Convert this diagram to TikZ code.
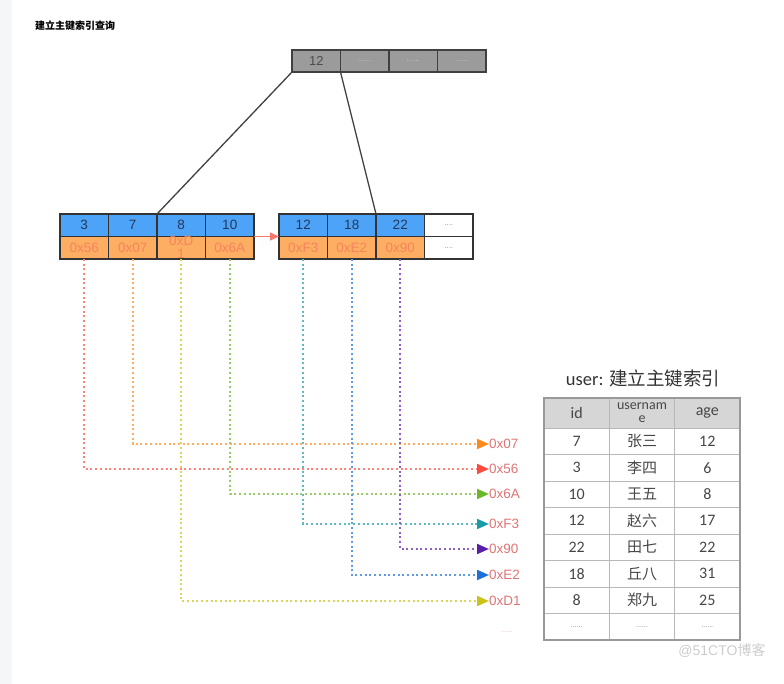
\documentclass[tikz,border=0pt]{standalone}
\usepackage{fontspec}
\setmainfont{Liberation Sans}
\newfontfamily\cjk{Noto Sans CJK SC}
\newfontfamily\tabfont{Carlito}
\usetikzlibrary{arrows.meta,positioning}

\definecolor{rootgray}{HTML}{9B9B9B}
\definecolor{keyblue}{HTML}{4DA3F7}
\definecolor{ptrorange}{HTML}{FDAE62}
\definecolor{ptrtext}{HTML}{F5845F}
\definecolor{keytext}{HTML}{25385A}
\definecolor{addrtext}{HTML}{E07474}
\definecolor{linkred}{HTML}{F47A6E}
\definecolor{c07}{HTML}{FF8A1C}
\definecolor{c56}{HTML}{FF4B3E}
\definecolor{c6A}{HTML}{6DB52A}
\definecolor{cF3}{HTML}{1A9BA6}
\definecolor{c90}{HTML}{5B1FA6}
\definecolor{cE2}{HTML}{1E6FD9}
\definecolor{cD1}{HTML}{C9C31A}

\begin{document}
\begin{tikzpicture}[x=1pt, y=-1pt, node distance=0pt,
  every node/.style={inner sep=0pt, outer sep=0pt},
  rootcell/.style={draw=black!75, fill=rootgray, line width=1.3pt,
                   minimum width=48.5pt, minimum height=22pt,
                   font=\fontsize{13}{14}\selectfont, text=black!70},
  rootdots/.style={rootcell, font=\fontsize{8}{9}\selectfont, text=black!22},
  keycell/.style={draw=black!80, fill=keyblue, line width=1.3pt,
                  minimum width=48.5pt, minimum height=22.5pt,
                  font=\fontsize{13.5}{13}\selectfont, text=keytext, align=center},
  ptrcell/.style={keycell, fill=ptrorange, text=ptrtext},
  emptycell/.style={keycell, fill=white, text=black!40, font=\fontsize{8}{9}\selectfont},
  treeline/.style={draw=black!75, line width=1.3pt},
  leafarrow/.style={draw=linkred, line width=1.3pt, -{Triangle[length=9pt,width=8pt]}},
  ptrline/.style={draw=#1!70!white, line width=2pt, dash pattern=on 2pt off 2.7pt,
                  -{Triangle[length=12pt,width=10pt,color=#1]}},
  addr/.style={anchor=west, text=addrtext, font=\fontsize{13.5}{15}\selectfont},
  tcell/.style={draw=black!28, line width=0.8pt, minimum width=65.33pt,
                minimum height=26.5pt, align=center,
                font=\tabfont\fontsize{16}{13}\selectfont, text=black!72},
  thead/.style={tcell, fill=black!16, minimum height=30pt},
  tdots/.style={tcell, font=\fontsize{7}{8}\selectfont, text=black!50}]
  \useasboundingbox (0,0) rectangle (784,684);
  \fill[fill={rgb,255:red,245;green,246;blue,248}] (0,0) rectangle (12,684);
  \node[anchor=west, font=\cjk\bfseries\fontsize{10}{12}\selectfont] (title) at (35,26) {建立主键索引查询};

  % root page
  \node[rootcell] (r12) at (316.25,61) {12};
  \node[rootdots, right=of r12] (r2) {......};
  \node[rootdots, right=of r2] (r3) {......};
  \node[rootdots, right=of r3] (r4) {......};

  % leaf pages
  \node[keycell] (k3) at (84.25,225.25) {3};
  \node[keycell, right=of k3] (k7) {7};
  \node[keycell, right=of k7] (k8) {8};
  \node[keycell, right=of k8] (k10) {10};
  \node[ptrcell, below=of k3] (p56) {0x56};
  \node[ptrcell, below=of k7] (p07) {0x07};
  \node[ptrcell, below=of k8] (pD1) {0xD\\1};
  \node[ptrcell, below=of k10] (p6A) {0x6A};
  \node[keycell] (k12) at (303.25,225.25) {12};
  \node[keycell, right=of k12] (k18) {18};
  \node[keycell, right=of k18] (k22) {22};
  \node[emptycell, right=of k22] (kmore) {....};
  \node[ptrcell, below=of k12] (pF3) {0xF3};
  \node[ptrcell, below=of k18] (pE2) {0xE2};
  \node[ptrcell, below=of k22] (p90) {0x90};
  \node[emptycell, below=of kmore] (pmore) {....};

  \draw[treeline] (r12.south west) -- (k7.north east);
  \draw[treeline] (r2.south west) -- (k18.north east);
  \draw[leafarrow] (k10.south east) -- (k12.south west);

  % row addresses
  \node[addr] (a07) at (489,444) {0x07};
  \node[addr] (a56) at (489,469) {0x56};
  \node[addr] (a6A) at (489,494) {0x6A};
  \node[addr] (aF3) at (489,524) {0xF3};
  \node[addr] (a90) at (489,549) {0x90};
  \node[addr] (aE2) at (489,575) {0xE2};
  \node[addr] (aD1) at (489,601) {0xD1};
  \node[font=\fontsize{7}{8}\selectfont, text=addrtext!60] (adots) at (507,632) {......};
  \draw[ptrline=c56] (p56.south) |- (a56.west);
  \draw[ptrline=c07] (p07.south) |- (a07.west);
  \draw[ptrline=cD1] (pD1.south) |- (aD1.west);
  \draw[ptrline=c6A] (p6A.south) |- (a6A.west);
  \draw[ptrline=cF3] (pF3.south) |- (aF3.west);
  \draw[ptrline=cE2] (pE2.south) |- (aE2.west);
  \draw[ptrline=c90] (p90.south) |- (a90.west);

  % user table
  \node[font=\tabfont\fontsize{18.5}{20}\selectfont, text=black!80] (ttitle) at (643,378) {user: {\cjk 建立主键索引}};
  \node[thead] (h1) at (576.67,413) {id};
  \node[thead, right=of h1, font=\tabfont\fontsize{14}{13}\selectfont] (h2) {usernam\\e};
  \node[thead, right=of h2] (h3) {age};
  \node[tcell, below=of h1] (c11) {7};
  \node[tcell, below=of h2] (c12) {\cjk\fontsize{15}{15}\selectfont 张三};
  \node[tcell, below=of h3] (c13) {12};
  \node[tcell, below=of c11] (c21) {3};
  \node[tcell, below=of c12] (c22) {\cjk\fontsize{15}{15}\selectfont 李四};
  \node[tcell, below=of c13] (c23) {6};
  \node[tcell, below=of c21] (c31) {10};
  \node[tcell, below=of c22] (c32) {\cjk\fontsize{15}{15}\selectfont 王五};
  \node[tcell, below=of c23] (c33) {8};
  \node[tcell, below=of c31] (c41) {12};
  \node[tcell, below=of c32] (c42) {\cjk\fontsize{15}{15}\selectfont 赵六};
  \node[tcell, below=of c33] (c43) {17};
  \node[tcell, below=of c41] (c51) {22};
  \node[tcell, below=of c42] (c52) {\cjk\fontsize{15}{15}\selectfont 田七};
  \node[tcell, below=of c43] (c53) {22};
  \node[tcell, below=of c51] (c61) {18};
  \node[tcell, below=of c52] (c62) {\cjk\fontsize{15}{15}\selectfont 丘八};
  \node[tcell, below=of c53] (c63) {31};
  \node[tcell, below=of c61] (c71) {8};
  \node[tcell, below=of c62] (c72) {\cjk\fontsize{15}{15}\selectfont 郑九};
  \node[tcell, below=of c63] (c73) {25};
  \node[tdots, below=of c71] (c81) {......};
  \node[tdots, below=of c72] (c82) {......};
  \node[tdots, below=of c73] (c83) {......};
  \draw[draw=black!40, line width=1.6pt] (h1.north west) rectangle (c83.south east);

  \node[font=\fontsize{14}{16}\selectfont, text=black!20] (mark) at (722,651) {@51CTO{\cjk 博客}};
\end{tikzpicture}
\end{document}
